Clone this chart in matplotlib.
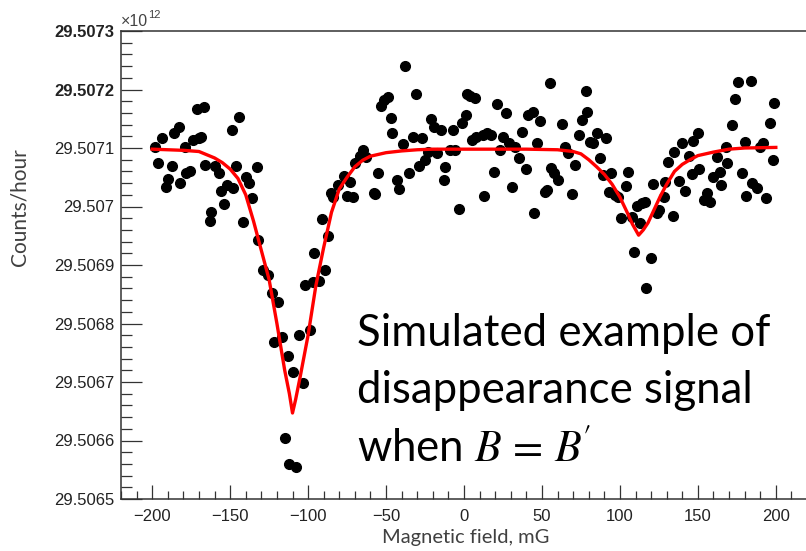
import matplotlib
matplotlib.use("Agg")
import matplotlib.pyplot as plt
import numpy as np
from matplotlib.ticker import MultipleLocator, FixedLocator, FixedFormatter

# data points: magnetic field (mG) and counts/hour in units of 1e12
field = [-198, -196, -194, -191, -190, -187, -186, -183, -182, -179,
         -178, -176, -174, -171, -170, -169, -167, -166, -163, -162,
         -160, -157, -156, -154, -152, -149, -148, -146, -144, -142,
         -140, -138, -136, -133, -132, -129, -126, -123, -122, -119,
         -117, -115, -113, -112, -110, -108, -106, -103, -102, -99,
         -97, -96, -93, -91, -89, -87, -85, -84, -81, -77,
         -75, -73, -71, -70, -67, -65, -63, -58, -57, -55,
         -53, -51, -49, -47, -46, -43, -42, -39, -38, -35,
         -33, -31, -29, -27, -25, -23, -21, -19, -17, -15,
         -13, -12, -9, -7, -6, -3, -1, 1, 2, 4,
         5, 7, 8, 12, 13, 15, 17, 19, 21, 23,
         25, 27, 29, 31, 33, 35, 37, 40, 41, 44,
         45, 47, 49, 52, 53, 55, 56, 58, 60, 63,
         65, 67, 69, 71, 74, 76, 78, 79, 81, 83,
         85, 87, 89, 91, 93, 94, 97, 99, 101, 104,
         105, 108, 109, 111, 113, 114, 116, 117, 120, 121,
         124, 125, 128, 129, 131, 134, 135, 138, 140, 142,
         144, 146, 147, 150, 151, 154, 156, 158, 160, 162,
         164, 165, 168, 169, 172, 174, 176, 178, 180, 181,
         184, 185, 188, 190, 192, 194, 196, 198, 199]
counts = [29.507102, 29.507074, 29.507117, 29.507033, 29.507047, 29.507069, 29.507126, 29.507136, 29.507040, 29.507102,
          29.507057, 29.507061, 29.507114, 29.507167, 29.507117, 29.507119, 29.507170, 29.507071, 29.506975, 29.506991,
          29.507069, 29.507057, 29.507027, 29.507004, 29.507037, 29.507131, 29.507032, 29.507069, 29.507153, 29.506974,
          29.507050, 29.507040, 29.507015, 29.507068, 29.506943, 29.506892, 29.506883, 29.506852, 29.506768, 29.506837,
          29.506777, 29.506604, 29.506744, 29.506560, 29.506717, 29.506555, 29.506780, 29.506698, 29.506866, 29.506789,
          29.506871, 29.506921, 29.506873, 29.506979, 29.506892, 29.506950, 29.507023, 29.507016, 29.507037, 29.507052,
          29.507018, 29.507042, 29.507016, 29.507074, 29.507086, 29.507097, 29.507085, 29.507023, 29.507021, 29.507057,
          29.507172, 29.507182, 29.507187, 29.507151, 29.507126, 29.507045, 29.507030, 29.507107, 29.507240, 29.507057,
          29.507119, 29.507192, 29.507069, 29.507117, 29.507080, 29.507093, 29.507150, 29.507136, 29.507092, 29.507131,
          29.507045, 29.507068, 29.507097, 29.507131, 29.507097, 29.506996, 29.507143, 29.507156, 29.507192, 29.507189,
          29.507114, 29.507186, 29.507119, 29.507122, 29.507018, 29.507126, 29.507122, 29.507059, 29.507175, 29.507097,
          29.507119, 29.507160, 29.507109, 29.507033, 29.507102, 29.507083, 29.507127, 29.507064, 29.507156, 29.507162,
          29.506989, 29.507109, 29.507146, 29.507025, 29.507028, 29.507211, 29.507066, 29.507057, 29.507045, 29.507141,
          29.507102, 29.507092, 29.507021, 29.507071, 29.507122, 29.507148, 29.507197, 29.507162, 29.507110, 29.507109,
          29.507126, 29.507083, 29.507054, 29.507117, 29.507025, 29.507057, 29.507020, 29.507016, 29.506980, 29.507035,
          29.507059, 29.506982, 29.506922, 29.507001, 29.506972, 29.507006, 29.507008, 29.506861, 29.506912, 29.507038,
          29.506989, 29.506994, 29.507016, 29.507042, 29.507076, 29.506984, 29.507093, 29.507044, 29.507109, 29.507027,
          29.507086, 29.507056, 29.507112, 29.507126, 29.507064, 29.507011, 29.507023, 29.507008, 29.507050, 29.507085,
          29.507059, 29.507037, 29.507102, 29.507074, 29.507139, 29.507184, 29.507213, 29.507057, 29.507110, 29.507018,
          29.507215, 29.507040, 29.507032, 29.507102, 29.507109, 29.507015, 29.507143, 29.507079, 29.507177]

# fitted curve
fit_field = [-200, -190, -180, -170, -160, -155, -150, -145, -140, -135,
             -130, -125, -120, -115, -112, -110, -108, -105, -100, -95,
             -90, -85, -80, -75, -70, -65, -60, -50, -40, -30,
             -20, 0, 20, 40, 60, 70, 75, 80, 85, 90,
             95, 100, 105, 108, 112, 115, 118, 122, 126, 130,
             135, 140, 145, 150, 160, 170, 180, 200]
fit_counts = [29.507098, 29.507097, 29.507096, 29.507094, 29.507083, 29.507075, 29.507064, 29.507048, 29.507020, 29.506975,
              29.506925, 29.506875, 29.506800, 29.506720, 29.506680, 29.506647, 29.506670, 29.506710, 29.506780, 29.506865,
              29.506930, 29.506990, 29.507030, 29.507050, 29.507068, 29.507079, 29.507086, 29.507092, 29.507095, 29.507097,
              29.507098, 29.507098, 29.507098, 29.507098, 29.507097, 29.507094, 29.507090, 29.507080, 29.507068, 29.507055,
              29.507038, 29.507016, 29.506988, 29.506970, 29.506951, 29.506960, 29.506972, 29.506995, 29.507018, 29.507038,
              29.507060, 29.507072, 29.507080, 29.507087, 29.507093, 29.507098, 29.507100, 29.507101]

ytick_vals = [29.5065, 29.5066, 29.5067, 29.5068, 29.5069, 29.5070, 29.5071, 29.5072, 29.5073]
ytick_labels = ["29.5065", "29.5066", "29.5067", "29.5068", "29.5069", "29.507", "29.5071", "29.5072", "29.5073"]
xtick_vals = [-200, -150, -100, -50, 0, 50, 100, 150, 200]

plt.rcParams["mathtext.fontset"] = "stix"

fig = plt.figure(figsize=(8.06, 5.51), dpi=100)
ax = fig.add_axes([121 / 806, 52 / 551, 686 / 806, 468 / 551])

ax.plot(field, counts, "o", color="black", markersize=7, zorder=2)
ax.plot(fit_field, fit_counts, "-", color="red", lw=2.4, zorder=3)

ax.set_xlim(-220, 220)
ax.set_ylim(29.5065, 29.5073)

ax.yaxis.set_major_locator(FixedLocator(ytick_vals))
ax.yaxis.set_major_formatter(FixedFormatter(ytick_labels))
ax.yaxis.set_minor_locator(MultipleLocator(0.00002))
ax.xaxis.set_major_locator(FixedLocator(xtick_vals))
ax.xaxis.set_minor_locator(MultipleLocator(10))

tick_font = "Liberation Sans"
ax.tick_params(axis="y", which="major", direction="in", length=15, width=0.9,
               color="#333333", labelsize=12, pad=5)
ax.tick_params(axis="y", which="minor", direction="in", length=8, width=0.9, color="#333333")
ax.tick_params(axis="x", which="major", direction="in", length=10, width=0.9,
               color="#333333", labelsize=12, pad=7)
ax.tick_params(axis="x", which="minor", direction="in", length=5.5, width=0.9, color="#333333")
for lab in ax.get_xticklabels() + ax.get_yticklabels():
    lab.set_fontfamily(tick_font)
    lab.set_color("#222222")
for lab in ax.get_yticklabels()[-2:]:
    lab.set_fontweight("bold")

for s in ["left", "bottom", "top"]:
    ax.spines[s].set_linewidth(1.1)
    ax.spines[s].set_color("#333333")
ax.spines["right"].set_visible(False)

# exponent label in the ROOT style
fig.text(121 / 806, 1 - 22 / 551, "×10", fontsize=11.5, color="#444444",
         family="Liberation Sans", va="center", ha="left")
fig.text(148 / 806, 1 - 15 / 551, "12", fontsize=8, color="#444444",
         family="Liberation Sans", va="center", ha="left")

fig.text(20 / 806, 1 - 207 / 551, "Counts/hour", rotation=90, fontsize=15,
         family="Lato", color="#404040", ha="center", va="center")
fig.text(466 / 806, 1 - 538 / 551, "Magnetic field, mG", fontsize=14.5,
         family="Lato", color="#404040", ha="center", va="center")

note_font = "Lato"
fig.text(357 / 806, 1 - 346 / 551, "Simulated example of", fontsize=31.5,
         family=note_font, color="black", ha="left", va="baseline")
fig.text(357 / 806, 1 - 403 / 551, "disappearance signal", fontsize=31.5,
         family=note_font, color="black", ha="left", va="baseline")
fig.text(357 / 806, 1 - 461 / 551, r"when $B\,=\,B^{\!\prime}$", fontsize=31.5,
         family=note_font, color="black", ha="left", va="baseline")

fig.savefig("out.png", dpi=100)
